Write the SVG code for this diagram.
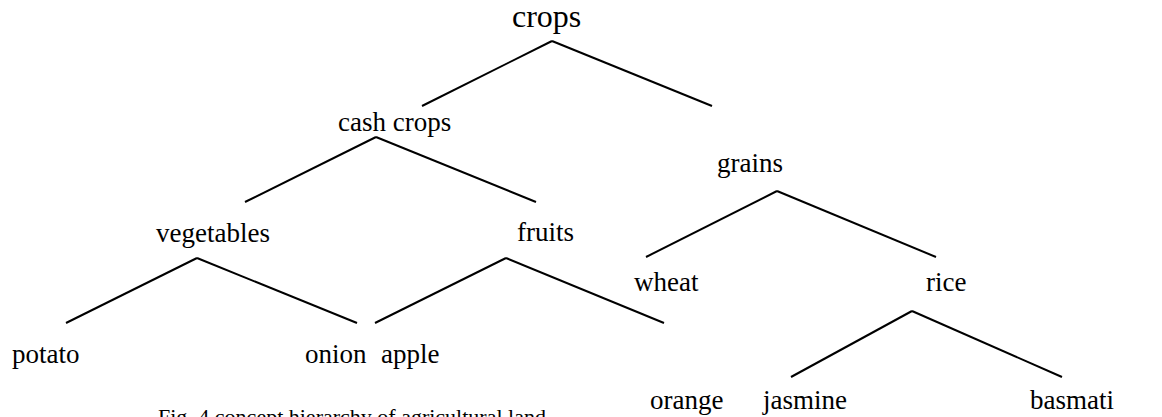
<svg xmlns="http://www.w3.org/2000/svg" width="1162" height="417" viewBox="0 0 1162 417">
<style>
text{font-family:"Liberation Serif","Times New Roman",serif;fill:#000;font-size:27px}
.root{font-size:32px}
.cap{font-size:22px}
.e{stroke:#000;stroke-width:2;fill:none}
</style>
<rect width="1162" height="417" fill="#fff"/>
<g id="connectors">
<line class="e" x1="552" y1="41" x2="422" y2="106"/>
<line class="e" x1="552" y1="41" x2="712" y2="106"/>
<line class="e" x1="376" y1="137" x2="245" y2="202"/>
<line class="e" x1="376" y1="137" x2="536" y2="202"/>
<line class="e" x1="197" y1="258" x2="66" y2="323"/>
<line class="e" x1="197" y1="258" x2="357" y2="323"/>
<line class="e" x1="506" y1="258" x2="375" y2="323"/>
<line class="e" x1="506" y1="258" x2="664" y2="323"/>
<line class="e" x1="777" y1="191" x2="646" y2="257"/>
<line class="e" x1="777" y1="191" x2="936" y2="257"/>
<line class="e" x1="912" y1="311" x2="791" y2="377"/>
<line class="e" x1="912" y1="311" x2="1062" y2="377"/>
</g>
<g id="crops"><text class="root" x="512" y="27">crops</text></g>
<g id="cash-crops"><text x="338" y="131">cash crops</text></g>
<g id="vegetables"><text x="156" y="242">vegetables</text></g>
<g id="fruits"><text x="517" y="241">fruits</text></g>
<g id="grains"><text x="717" y="172">grains</text></g>
<g id="wheat"><text x="634" y="291">wheat</text></g>
<g id="rice"><text x="926" y="291">rice</text></g>
<g id="potato"><text x="12" y="363">potato</text></g>
<g id="onion"><text x="305" y="363">onion</text></g>
<g id="apple"><text x="381" y="363">apple</text></g>
<g id="orange"><text x="650" y="409">orange</text></g>
<g id="jasmine"><text x="763" y="409">jasmine</text></g>
<g id="basmati"><text x="1030" y="409">basmati</text></g>
<g id="caption"><text class="cap" x="158" y="424">Fig. 4 concept hierarchy of agricultural land</text></g>
</svg>
